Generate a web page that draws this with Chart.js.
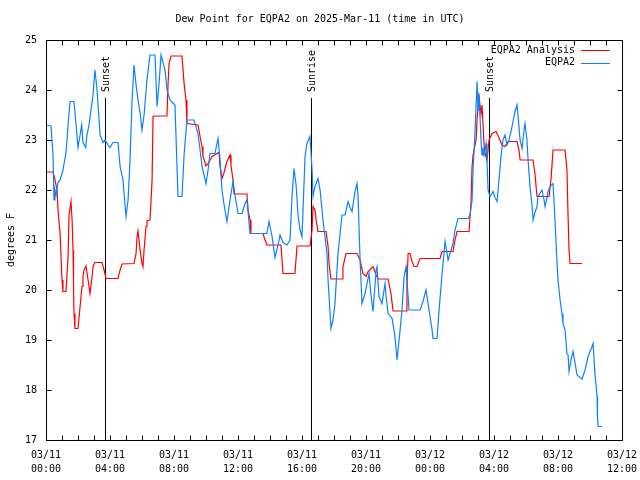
<!DOCTYPE html>
<html>
<head>
<meta charset="utf-8">
<script src="https://cdn.jsdelivr.net/npm/chart.js@4"></script>
<style>
  body { margin: 0; background: #fff; }
  canvas { display: block; }
</style>
</head>
<body>
<canvas id="dewChart" width="640" height="480"></canvas>
<script>
// hours since 03/11 00:00 UTC
const obsHours = [0, 0.31, 0.44, 0.5, 0.56, 0.63, 0.75, 0.88, 1.06, 1.25, 1.38, 1.5, 1.75, 1.88, 2.0, 2.13, 2.23, 2.31, 2.48, 2.56,
  2.69, 2.81, 2.94, 3.06, 3.19, 3.38, 3.56, 3.69, 3.88, 4.0, 4.19, 4.5, 4.63, 4.81, 5.0, 5.13, 5.25, 5.38, 5.5, 5.63,
  5.75, 5.88, 6.0, 6.13, 6.31, 6.5, 6.81, 6.94, 7.06, 7.19, 7.31, 7.44, 7.56, 7.75, 8.06, 8.25, 8.5, 8.63, 8.81, 9.25,
  9.5, 9.63, 9.75, 9.88, 10.0, 10.13, 10.25, 10.56, 10.75, 10.88, 11.0, 11.13, 11.31, 11.5, 11.69, 11.81, 12.0, 12.25, 12.44, 12.56,
  12.75, 13.81, 13.94, 14.13, 14.31, 14.5, 14.63, 14.81, 15.06, 15.25, 15.38, 15.5, 15.63, 15.75, 15.88, 16.0, 16.19, 16.31, 16.5, 16.63,
  16.69, 16.81, 17.0, 17.13, 17.31, 17.56, 17.63, 17.81, 17.94, 18.06, 18.25, 18.5, 18.69, 18.88, 19.0, 19.13, 19.31, 19.44, 19.5, 19.63,
  19.75, 19.94, 20.19, 20.31, 20.44, 20.63, 20.69, 20.81, 21.0, 21.19, 21.25, 21.38, 21.63, 21.81, 21.94, 22.13, 22.25, 22.38, 22.5, 22.56,
  22.69, 23.38, 23.56, 23.75, 23.94, 24.13, 24.19, 24.44, 24.56, 24.75, 24.94, 25.13, 25.44, 25.56, 25.75, 26.38, 26.5, 26.63, 26.69, 26.81,
  26.94, 27.0, 27.06, 27.19, 27.25, 27.31, 27.38, 27.5, 27.56, 27.63, 27.75, 27.94, 28.06, 28.19, 28.31, 28.44, 28.56, 28.69, 28.81, 28.94,
  29.13, 29.31, 29.44, 29.5, 29.63, 29.75, 29.88, 29.94, 30.06, 30.13, 30.25, 30.38, 30.44, 30.56, 30.69, 30.75, 31.0, 31.13, 31.19, 31.31,
  31.38, 31.5, 31.69, 31.81, 31.94, 32.0, 32.13, 32.25, 32.31, 32.44, 32.56, 32.63, 32.69, 32.81, 32.94, 33.06, 33.19, 33.5, 33.69, 33.88,
  34.13, 34.19, 34.31, 34.44, 34.47, 34.5, 34.75];
const obsDew = [23.3, 23.28, 22.7, 21.8, 22.0, 21.9, 22.15, 22.2, 22.4, 22.75, 23.3, 23.77, 23.77, 23.3, 22.85, 23.1, 23.3, 22.95, 22.85, 23.1,
  23.3, 23.6, 23.9, 24.4, 24.0, 23.1, 22.95, 23.0, 22.9, 22.85, 22.95, 22.95, 22.47, 22.2, 21.47, 21.8, 22.6, 23.8, 24.5, 24.1,
  23.8, 23.55, 23.2, 23.5, 24.2, 24.7, 24.7, 23.67, 24.1, 24.7, 24.55, 24.4, 24.0, 23.8, 23.7, 21.87, 21.87, 22.7, 23.4, 23.4,
  23.13, 22.8, 22.47, 22.3, 22.13, 22.4, 22.73, 22.73, 23.03, 22.6, 22.0, 21.7, 21.37, 21.8, 22.17, 21.9, 21.53, 21.53, 21.73, 21.8,
  21.13, 21.13, 21.37, 21.07, 20.65, 20.9, 21.1, 20.95, 20.9, 21.0, 21.9, 22.43, 22.1, 21.5, 21.2, 21.07, 22.67, 22.93, 23.07, 22.4,
  21.87, 22.07, 22.23, 22.0, 21.4, 20.73, 20.2, 19.23, 19.4, 19.73, 20.73, 21.5, 21.5, 21.77, 21.65, 21.57, 21.97, 22.13, 21.9, 20.6,
  19.73, 19.93, 20.33, 19.9, 19.57, 20.4, 20.47, 19.87, 19.73, 20.13, 19.9, 19.53, 19.43, 19.07, 18.6, 19.2, 19.6, 20.27, 20.47, 20.2,
  19.6, 19.6, 19.77, 20.0, 19.6, 19.2, 19.03, 19.03, 19.57, 20.3, 20.97, 20.6, 20.93, 21.2, 21.43, 21.43, 21.5, 21.8, 22.4, 23.13,
  24.17, 23.6, 23.93, 23.0, 22.7, 22.85, 22.7, 22.93, 22.6, 22.0, 21.87, 21.97, 21.85, 21.77, 22.2, 22.67, 23.0, 23.1, 22.9, 23.0,
  23.27, 23.57, 23.7, 23.5, 23.0, 22.83, 23.2, 23.33, 23.0, 22.6, 22.07, 21.67, 21.4, 21.55, 21.67, 21.87, 22.0, 21.8, 21.67, 21.85,
  21.97, 22.07, 22.13, 21.4, 20.53, 20.2, 19.8, 19.53, 19.33, 19.2, 18.73, 18.7, 18.37, 18.6, 18.77, 18.55, 18.3, 18.22, 18.4, 18.67,
  18.87, 18.93, 18.33, 17.87, 17.47, 17.27, 17.27];

const anaHours = [0, 0.44, 0.56, 0.69, 0.75, 0.88, 0.94, 1.0, 1.06, 1.25, 1.38, 1.44, 1.56, 1.63, 1.69, 1.72, 1.75, 1.81, 2.0, 2.13,
  2.25, 2.31, 2.38, 2.5, 2.63, 2.75, 2.88, 2.94, 3.06, 3.5, 3.63, 3.75, 4.5, 4.63, 4.75, 5.5, 5.63, 5.69, 5.75, 5.88,
  6.0, 6.06, 6.13, 6.25, 6.31, 6.5, 6.63, 6.69, 6.81, 7.56, 7.63, 7.69, 7.81, 8.5, 8.63, 8.75, 8.81, 9.5, 9.63, 9.75,
  9.81, 10.0, 10.13, 10.38, 10.69, 10.81, 10.88, 11.0, 11.13, 11.31, 11.5, 11.56, 11.69, 11.75, 12.56, 12.63, 12.75, 12.81, 13.56, 13.69,
  13.81, 14.69, 14.81, 15.56, 15.69, 16.5, 16.63, 16.69, 16.81, 16.88, 17.0, 17.5, 17.63, 17.69, 17.81, 18.5, 18.56, 18.75, 19.44, 19.63,
  19.81, 20.0, 20.13, 20.44, 20.63, 20.75, 21.38, 21.56, 21.69, 22.5, 22.56, 22.63, 22.75, 22.88, 23.0, 23.19, 23.38, 24.63, 24.75, 25.44,
  25.56, 25.69, 26.44, 26.56, 26.63, 26.69, 26.88, 26.94, 27.06, 27.19, 27.25, 27.38, 27.44, 27.56, 27.63, 27.69, 27.88, 28.13, 28.31, 28.5,
  28.69, 28.88, 29.44, 29.56, 29.63, 30.44, 30.56, 30.63, 30.69, 31.44, 31.56, 31.63, 31.69, 32.44, 32.56, 32.63, 32.69, 32.75, 33.5];
const anaDew = [22.36, 22.36, 22.2, 22.0, 21.6, 21.13, 20.67, 20.2, 19.97, 19.97, 20.67, 21.5, 21.77, 21.4, 20.8, 20.13, 19.53, 19.23, 19.23, 19.67,
  20.07, 20.27, 20.4, 20.48, 20.2, 19.93, 20.27, 20.47, 20.55, 20.55, 20.4, 20.23, 20.23, 20.4, 20.52, 20.53, 20.73, 21.07, 21.18, 20.8,
  20.53, 20.47, 20.8, 21.27, 21.38, 21.4, 22.2, 23.47, 23.48, 23.48, 24.13, 24.53, 24.68, 24.68, 24.13, 23.8, 23.33, 23.3, 23.07, 22.87,
  22.67, 22.48, 22.53, 22.67, 22.73, 22.75, 22.47, 22.23, 22.35, 22.57, 22.7, 22.5, 22.2, 21.92, 21.92, 21.6, 21.4, 21.13, 21.13, 21.0,
  20.9, 20.9, 20.33, 20.33, 20.88, 20.88, 21.2, 21.67, 21.6, 21.4, 21.17, 21.17, 20.87, 20.53, 20.22, 20.22, 20.47, 20.73, 20.73, 20.6,
  20.33, 20.27, 20.37, 20.47, 20.3, 20.22, 20.22, 19.93, 19.58, 19.58, 20.07, 20.73, 20.73, 20.57, 20.47, 20.47, 20.63, 20.63, 20.77, 20.77,
  21.0, 21.17, 21.17, 21.73, 22.47, 22.7, 23.0, 23.4, 23.87, 23.53, 23.7, 22.9, 22.73, 22.6, 22.8, 23.0, 23.13, 23.17, 23.05, 22.9,
  22.87, 22.97, 22.97, 22.8, 22.6, 22.6, 22.33, 22.07, 21.87, 21.87, 22.2, 22.53, 22.8, 22.8, 22.4, 21.47, 20.8, 20.53, 20.53];

const eventHours = [3.71, 16.58, 27.71];
const eventLabels = ["Sunset", "Sunrise", "Sunset"];

const tickDays = ["03/11", "03/11", "03/11", "03/11", "03/11", "03/11", "03/12", "03/12", "03/12", "03/12"];
const tickTimes = ["00:00", "04:00", "08:00", "12:00", "16:00", "20:00", "00:00", "04:00", "08:00", "12:00"];

const FONT = "DejaVu Sans Mono";

const gnuFrame = {
    id: "gnuFrame",
    beforeDatasetsDraw(chart) {
        const ctx = chart.ctx;
        const area = chart.chartArea;
        const xs = chart.scales.x;
        ctx.save();
        ctx.strokeStyle = "#000";
        ctx.lineWidth = 1;
        eventHours.forEach(h => {
            const x = Math.round(xs.getPixelForValue(h)) + 0.5;
            ctx.beginPath();
            ctx.moveTo(x, 98);
            ctx.lineTo(x, area.bottom);
            ctx.stroke();
        });
        ctx.restore();
    },
    afterDraw(chart) {
        const ctx = chart.ctx;
        const area = chart.chartArea;
        const xs = chart.scales.x;
        const ys = chart.scales.y;
        ctx.save();
        ctx.strokeStyle = "#000";
        ctx.fillStyle = "#000";
        ctx.lineWidth = 1;

        // box
        const l = Math.round(area.left) + 0.5, r = Math.round(area.right) + 0.5;
        const t = Math.round(area.top) + 0.5, b = Math.round(area.bottom) + 0.5;
        ctx.strokeRect(l, t, r - l, b - t);

        // ticks, pointing inward on all four sides
        ctx.beginPath();
        for (let h = 0; h <= 36; h++) {
            const x = Math.round(xs.getPixelForValue(h)) + 0.5;
            ctx.moveTo(x, b); ctx.lineTo(x, b - 5);
            ctx.moveTo(x, t); ctx.lineTo(x, t + 5);
        }
        for (let v = 17; v <= 25; v++) {
            const y = Math.round(ys.getPixelForValue(v)) + 0.5;
            ctx.moveTo(l, y); ctx.lineTo(l + 5, y);
            ctx.moveTo(r, y); ctx.lineTo(r - 5, y);
        }
        ctx.stroke();

        ctx.font = "10px '" + FONT + "'";

        // title
        ctx.textAlign = "center";
        ctx.textBaseline = "middle";
        ctx.fillText("Dew Point for EQPA2 on 2025-Mar-11 (time in UTC)", 320, 19);

        // y axis title
        ctx.save();
        ctx.translate(11, 240);
        ctx.rotate(-Math.PI / 2);
        ctx.fillText("degrees F", 0, 0);
        ctx.restore();

        // sun event labels
        eventHours.forEach((h, i) => {
            const x = Math.round(xs.getPixelForValue(h)) + 1;
            ctx.save();
            ctx.translate(x, 92);
            ctx.rotate(-Math.PI / 2);
            ctx.textAlign = "left";
            ctx.fillText(eventLabels[i], 0, 0);
            ctx.restore();
        });

        // legend
        ctx.textAlign = "right";
        chart.data.datasets.forEach((ds, i) => {
            const y = 50 + i * 12.5;
            ctx.fillText(ds.label, 575, y);
            ctx.strokeStyle = ds.borderColor;
            ctx.beginPath();
            ctx.moveTo(581, Math.round(y) + 0.5);
            ctx.lineTo(610, Math.round(y) + 0.5);
            ctx.stroke();
        });
        ctx.restore();
    }
};

new Chart(document.getElementById("dewChart"), {
    type: "line",
    data: {
        datasets: [
            {
                label: "EQPA2 Analysis",
                data: anaHours.map((h, i) => ({ x: h, y: anaDew[i] })),
                borderColor: "#ff0000",
                borderWidth: 1.2,
                pointRadius: 0,
                tension: 0,
                order: 2
            },
            {
                label: "EQPA2",
                data: obsHours.map((h, i) => ({ x: h, y: obsDew[i] })),
                borderColor: "#0a82ff",
                borderWidth: 1.2,
                pointRadius: 0,
                tension: 0,
                order: 1
            }
        ]
    },
    options: {
        responsive: false,
        animation: false,
        layout: { padding: { top: 40, right: 18, bottom: 0, left: 0 } },
        plugins: {
            legend: { display: false },
            tooltip: { enabled: false }
        },
        scales: {
            x: {
                type: "linear",
                min: 0,
                max: 36,
                afterFit: s => { s.height = 40; s.paddingLeft = 0; s.paddingRight = 0; },
                grid: { display: false, drawTicks: false },
                border: { display: false },
                ticks: {
                    stepSize: 4,
                    autoSkip: false,
                    maxRotation: 0,
                    padding: 8,
                    color: "#000",
                    font: { family: FONT, size: 10, lineHeight: 1.4 },
                    callback: v => {
                        const i = Math.round(v / 4);
                        return [tickDays[i], tickTimes[i]];
                    }
                }
            },
            y: {
                min: 17,
                max: 25,
                afterFit: s => { s.width = 46; s.paddingTop = 0; s.paddingBottom = 0; },
                grid: { display: false, drawTicks: false },
                border: { display: false },
                ticks: {
                    stepSize: 1,
                    padding: 9,
                    color: "#000",
                    font: { family: FONT, size: 10 }
                }
            }
        }
    },
    plugins: [gnuFrame]
});
</script>
</body>
</html>
